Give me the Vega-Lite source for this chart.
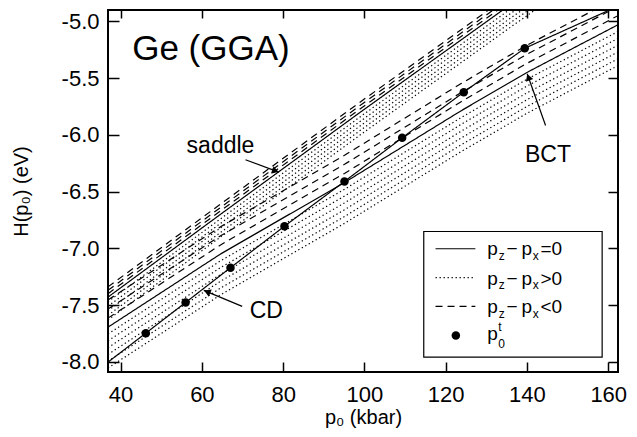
{
  "$schema": "https://vega.github.io/schema/vega-lite/v6.json",
  "width": 510,
  "height": 362,
  "autosize": {"type": "none"},
  "padding": {"left": 108, "top": 10, "right": 19, "bottom": 65},
  "background": "white",
  "config": {
    "view": {"stroke": "black", "strokeWidth": 2},
    "font": "Liberation Sans",
    "axis": {"domain": false, "grid": false, "tickColor": "black", "tickWidth": 1.5, "labelColor": "black", "titleColor": "black", "labelFont": "Liberation Sans", "titleFont": "Liberation Sans", "labelFontSize": 22, "titleFontSize": 20, "titleFontWeight": "normal"}
  },
  "datasets": {
    "lines": [
      {"line": "cd0", "dp": "=0", "x": 36.9, "y": -8.003},
      {"line": "cd0", "dp": "=0", "x": 46.2, "y": -7.748},
      {"line": "cd0", "dp": "=0", "x": 56.0, "y": -7.477},
      {"line": "cd0", "dp": "=0", "x": 67.04, "y": -7.171},
      {"line": "cd0", "dp": "=0", "x": 80.33, "y": -6.805},
      {"line": "cd0", "dp": "=0", "x": 95.09, "y": -6.411},
      {"line": "cd0", "dp": "=0", "x": 109.29, "y": -6.026},
      {"line": "cd0", "dp": "=0", "x": 124.45, "y": -5.624},
      {"line": "cd0", "dp": "=0", "x": 139.46, "y": -5.237},
      {"line": "cd0", "dp": "=0", "x": 159.7, "y": -4.91},

      {"line": "bct0", "dp": "=0", "x": 36.9, "y": -7.695},
      {"line": "bct0", "dp": "=0", "x": 64.6, "y": -7.05},
      {"line": "bct0", "dp": "=0", "x": 95.1, "y": -6.42},
      {"line": "bct0", "dp": "=0", "x": 123.7, "y": -5.79},
      {"line": "bct0", "dp": "=0", "x": 140, "y": -5.45},
      {"line": "bct0", "dp": "=0", "x": 162.4, "y": -5.03},

      {"line": "bctd1", "dp": "<0", "x": 36.9, "y": -7.615},
      {"line": "bctd1", "dp": "<0", "x": 64.6, "y": -6.97},
      {"line": "bctd1", "dp": "<0", "x": 95.1, "y": -6.34},
      {"line": "bctd1", "dp": "<0", "x": 123.7, "y": -5.71},
      {"line": "bctd1", "dp": "<0", "x": 140, "y": -5.37},
      {"line": "bctd1", "dp": "<0", "x": 162.4, "y": -4.95},
      {"line": "bctd2", "dp": "<0", "x": 36.9, "y": -7.535},
      {"line": "bctd2", "dp": "<0", "x": 64.6, "y": -6.89},
      {"line": "bctd2", "dp": "<0", "x": 95.1, "y": -6.26},
      {"line": "bctd2", "dp": "<0", "x": 123.7, "y": -5.63},
      {"line": "bctd2", "dp": "<0", "x": 140, "y": -5.29},
      {"line": "bctd2", "dp": "<0", "x": 162.4, "y": -4.87},
      {"line": "bctd3", "dp": "<0", "x": 36.9, "y": -7.455},
      {"line": "bctd3", "dp": "<0", "x": 64.6, "y": -6.81},
      {"line": "bctd3", "dp": "<0", "x": 95.1, "y": -6.18},
      {"line": "bctd3", "dp": "<0", "x": 123.7, "y": -5.55},
      {"line": "bctd3", "dp": "<0", "x": 140, "y": -5.21},
      {"line": "bctd3", "dp": "<0", "x": 162.4, "y": -4.79},

      {"line": "bctp1", "dp": ">0", "x": 36.9, "y": -7.755},
      {"line": "bctp1", "dp": ">0", "x": 64.6, "y": -7.11},
      {"line": "bctp1", "dp": ">0", "x": 95.1, "y": -6.48},
      {"line": "bctp1", "dp": ">0", "x": 123.7, "y": -5.85},
      {"line": "bctp1", "dp": ">0", "x": 140, "y": -5.51},
      {"line": "bctp1", "dp": ">0", "x": 162.4, "y": -5.09},
      {"line": "bctp2", "dp": ">0", "x": 36.9, "y": -7.815},
      {"line": "bctp2", "dp": ">0", "x": 64.6, "y": -7.17},
      {"line": "bctp2", "dp": ">0", "x": 95.1, "y": -6.54},
      {"line": "bctp2", "dp": ">0", "x": 123.7, "y": -5.91},
      {"line": "bctp2", "dp": ">0", "x": 140, "y": -5.57},
      {"line": "bctp2", "dp": ">0", "x": 162.4, "y": -5.15},
      {"line": "bctp3", "dp": ">0", "x": 36.9, "y": -7.875},
      {"line": "bctp3", "dp": ">0", "x": 64.6, "y": -7.23},
      {"line": "bctp3", "dp": ">0", "x": 95.1, "y": -6.60},
      {"line": "bctp3", "dp": ">0", "x": 123.7, "y": -5.97},
      {"line": "bctp3", "dp": ">0", "x": 140, "y": -5.63},
      {"line": "bctp3", "dp": ">0", "x": 162.4, "y": -5.21},
      {"line": "bctp4", "dp": ">0", "x": 36.9, "y": -7.935},
      {"line": "bctp4", "dp": ">0", "x": 64.6, "y": -7.29},
      {"line": "bctp4", "dp": ">0", "x": 95.1, "y": -6.66},
      {"line": "bctp4", "dp": ">0", "x": 123.7, "y": -6.03},
      {"line": "bctp4", "dp": ">0", "x": 140, "y": -5.69},
      {"line": "bctp4", "dp": ">0", "x": 162.4, "y": -5.27},
      {"line": "bctp5", "dp": ">0", "x": 36.9, "y": -7.995},
      {"line": "bctp5", "dp": ">0", "x": 64.6, "y": -7.35},
      {"line": "bctp5", "dp": ">0", "x": 95.1, "y": -6.72},
      {"line": "bctp5", "dp": ">0", "x": 123.7, "y": -6.09},
      {"line": "bctp5", "dp": ">0", "x": 140, "y": -5.75},
      {"line": "bctp5", "dp": ">0", "x": 162.4, "y": -5.33},
      {"line": "bctp6", "dp": ">0", "x": 36.9, "y": -8.055},
      {"line": "bctp6", "dp": ">0", "x": 64.6, "y": -7.41},
      {"line": "bctp6", "dp": ">0", "x": 95.1, "y": -6.78},
      {"line": "bctp6", "dp": ">0", "x": 123.7, "y": -6.15},
      {"line": "bctp6", "dp": ">0", "x": 140, "y": -5.81},
      {"line": "bctp6", "dp": ">0", "x": 162.4, "y": -5.39},

      {"line": "sad0", "dp": "=0", "x": 36.9, "y": -7.43},
      {"line": "sad0", "dp": "=0", "x": 64.6, "y": -6.70},
      {"line": "sad0", "dp": "=0", "x": 99, "y": -5.80},
      {"line": "sad0", "dp": "=0", "x": 136, "y": -4.85},
      {"line": "sad0", "dp": "=0", "x": 150, "y": -4.50},
      {"line": "sadd1", "dp": "<0", "x": 36.9, "y": -7.40},
      {"line": "sadd1", "dp": "<0", "x": 64.6, "y": -6.67},
      {"line": "sadd1", "dp": "<0", "x": 99, "y": -5.77},
      {"line": "sadd1", "dp": "<0", "x": 136, "y": -4.82},
      {"line": "sadd1", "dp": "<0", "x": 150, "y": -4.47},
      {"line": "sadd2", "dp": "<0", "x": 36.9, "y": -7.37},
      {"line": "sadd2", "dp": "<0", "x": 64.6, "y": -6.64},
      {"line": "sadd2", "dp": "<0", "x": 99, "y": -5.74},
      {"line": "sadd2", "dp": "<0", "x": 136, "y": -4.79},
      {"line": "sadd2", "dp": "<0", "x": 150, "y": -4.44},
      {"line": "sadd3", "dp": "<0", "x": 36.9, "y": -7.34},
      {"line": "sadd3", "dp": "<0", "x": 64.6, "y": -6.61},
      {"line": "sadd3", "dp": "<0", "x": 99, "y": -5.71},
      {"line": "sadd3", "dp": "<0", "x": 136, "y": -4.76},
      {"line": "sadd3", "dp": "<0", "x": 150, "y": -4.41},
      {"line": "sadp1", "dp": ">0", "x": 36.9, "y": -7.47},
      {"line": "sadp1", "dp": ">0", "x": 64.6, "y": -6.74},
      {"line": "sadp1", "dp": ">0", "x": 99, "y": -5.84},
      {"line": "sadp1", "dp": ">0", "x": 136, "y": -4.89},
      {"line": "sadp1", "dp": ">0", "x": 150, "y": -4.54},
      {"line": "sadp2", "dp": ">0", "x": 36.9, "y": -7.51},
      {"line": "sadp2", "dp": ">0", "x": 64.6, "y": -6.78},
      {"line": "sadp2", "dp": ">0", "x": 99, "y": -5.88},
      {"line": "sadp2", "dp": ">0", "x": 136, "y": -4.93},
      {"line": "sadp2", "dp": ">0", "x": 150, "y": -4.58},
      {"line": "sadp3", "dp": ">0", "x": 36.9, "y": -7.55},
      {"line": "sadp3", "dp": ">0", "x": 64.6, "y": -6.82},
      {"line": "sadp3", "dp": ">0", "x": 99, "y": -5.92},
      {"line": "sadp3", "dp": ">0", "x": 136, "y": -4.97},
      {"line": "sadp3", "dp": ">0", "x": 150, "y": -4.62},
      {"line": "sadp4", "dp": ">0", "x": 36.9, "y": -7.59},
      {"line": "sadp4", "dp": ">0", "x": 64.6, "y": -6.86},
      {"line": "sadp4", "dp": ">0", "x": 99, "y": -5.96},
      {"line": "sadp4", "dp": ">0", "x": 136, "y": -5.01},
      {"line": "sadp4", "dp": ">0", "x": 150, "y": -4.66},
      {"line": "sadp5", "dp": ">0", "x": 36.9, "y": -7.63},
      {"line": "sadp5", "dp": ">0", "x": 64.6, "y": -6.90},
      {"line": "sadp5", "dp": ">0", "x": 99, "y": -6.00},
      {"line": "sadp5", "dp": ">0", "x": 136, "y": -5.05},
      {"line": "sadp5", "dp": ">0", "x": 150, "y": -4.70}
    ],
    "dots": [
      {"x": 46.2, "y": -7.748},
      {"x": 56.0, "y": -7.477},
      {"x": 67.04, "y": -7.171},
      {"x": 80.33, "y": -6.805},
      {"x": 95.09, "y": -6.411},
      {"x": 109.29, "y": -6.026},
      {"x": 124.45, "y": -5.624},
      {"x": 139.46, "y": -5.237}
    ],
    "title": [{"text": "Ge (GGA)", "x": 42.85, "y": -5.345}],
    "labels": [
      {"text": "saddle", "x": 64.58, "y": -6.164},
      {"text": "CD", "x": 75.85, "y": -7.612},
      {"text": "BCT", "x": 145.17, "y": -6.241}
    ],
    "arrows": [
      {"arrow": "saddle", "x": 70.73, "y": -6.220},
      {"arrow": "saddle", "x": 78.93, "y": -6.329},
      {"arrow": "CD", "x": 69.92, "y": -7.512},
      {"arrow": "CD", "x": 60.47, "y": -7.371},
      {"arrow": "BCT", "x": 144.58, "y": -5.918},
      {"arrow": "BCT", "x": 140.05, "y": -5.462}
    ],
    "heads": [
      {"arrow": "saddle", "x": 78.1, "y": -6.318},
      {"arrow": "CD", "x": 61.3, "y": -7.383},
      {"arrow": "BCT", "x": 140.35, "y": -5.492}
    ],
    "legendBox": [{"x": 114.6, "x2": 158.5, "y": -6.852, "y2": -7.959}],
    "legendLines": [
      {"dp": "=0", "x": 117.5, "x2": 127.3, "y": -7.004},
      {"dp": ">0", "x": 117.5, "x2": 127.3, "y": -7.259},
      {"dp": "<0", "x": 117.5, "x2": 127.3, "y": -7.512}
    ],
    "legendDot": [{"x": 122.5, "y": -7.768}],
    "legendText": [
      {"kind": "main", "text": "p", "x": 130.21, "y": -7.063},
      {"kind": "sub", "text": "z", "x": 133.06, "y": -7.103},
      {"kind": "main", "text": "−", "x": 134.96, "y": -7.063},
      {"kind": "main", "text": "p", "x": 138.65, "y": -7.063},
      {"kind": "sub", "text": "x", "x": 141.4, "y": -7.103},
      {"kind": "main", "text": "=0", "x": 143.3, "y": -7.063},
      {"kind": "main", "text": "p", "x": 130.21, "y": -7.319},
      {"kind": "sub", "text": "z", "x": 133.06, "y": -7.359},
      {"kind": "main", "text": "−", "x": 134.96, "y": -7.319},
      {"kind": "main", "text": "p", "x": 138.65, "y": -7.319},
      {"kind": "sub", "text": "x", "x": 141.4, "y": -7.359},
      {"kind": "main", "text": ">0", "x": 143.3, "y": -7.319},
      {"kind": "main", "text": "p", "x": 130.21, "y": -7.571},
      {"kind": "sub", "text": "z", "x": 133.06, "y": -7.611},
      {"kind": "main", "text": "−", "x": 134.96, "y": -7.571},
      {"kind": "main", "text": "p", "x": 138.65, "y": -7.571},
      {"kind": "sub", "text": "x", "x": 141.4, "y": -7.611},
      {"kind": "main", "text": "<0", "x": 143.3, "y": -7.571},
      {"kind": "main", "text": "p", "x": 130.21, "y": -7.812},
      {"kind": "sub", "text": "t", "x": 132.95, "y": -7.728},
      {"kind": "sub", "text": "0", "x": 132.95, "y": -7.875}
    ]
  },
  "encoding": {
    "x": {"field": "x", "type": "quantitative", "scale": {"domain": [36.9, 162.4], "nice": false, "zero": false}, "axis": null},
    "y": {"field": "y", "type": "quantitative", "scale": {"domain": [-8.09, -4.9], "nice": false, "zero": false}, "axis": null}
  },
  "resolve": {"axis": {"x": "independent", "y": "independent"}},
  "layer": [
    {
      "data": {"name": "lines"},
      "mark": {"type": "line", "clip": true, "strokeWidth": 1.2, "color": "black", "strokeCap": "butt"},
      "encoding": {
        "x": {"field": "x", "type": "quantitative", "scale": {"domain": [36.9, 162.4], "nice": false, "zero": false},
          "axis": {"orient": "bottom", "values": [40, 60, 80, 100, 120, 140, 160], "tickSize": -10, "labelPadding": 22, "title": "p₀ (kbar)", "titlePadding": 2}},
        "y": {"field": "y", "type": "quantitative", "scale": {"domain": [-8.09, -4.9], "nice": false, "zero": false},
          "axis": {"orient": "left", "values": [-8, -7.5, -7, -6.5, -6, -5.5, -5], "tickSize": -11, "labelPadding": 20, "labelExpr": "replace(format(datum.value, '.1f'), '\u2212', '-')", "title": "H(p₀) (eV)", "titlePadding": 30}},
        "detail": {"field": "line", "type": "nominal"},
        "strokeDash": {"field": "dp", "type": "nominal", "scale": {"domain": ["=0", ">0", "<0"], "range": [[1, 0], [1.3, 2.7], [7, 5]]}, "legend": null}
      }
    },
    {
      "data": {"name": "dots"},
      "mark": {"type": "point", "filled": true, "fill": "black", "stroke": null, "size": 72, "opacity": 1},
      "encoding": {
        "x": {"field": "x", "type": "quantitative", "scale": {"domain": [36.9, 162.4], "nice": false, "zero": false},
          "axis": {"orient": "top", "values": [40, 60, 80, 100, 120, 140, 160], "tickSize": -8, "labels": false, "title": null}},
        "y": {"field": "y", "type": "quantitative", "scale": {"domain": [-8.09, -4.9], "nice": false, "zero": false},
          "axis": {"orient": "right", "values": [-8, -7.5, -7, -6.5, -6, -5.5, -5], "tickSize": -10, "labels": false, "title": null}}
      }
    },
    {
      "data": {"name": "title"},
      "mark": {"type": "text", "align": "left", "baseline": "alphabetic", "fontSize": 35, "font": "Liberation Sans", "fill": "black"},
      "encoding": {"text": {"field": "text", "type": "nominal"}}
    },
    {
      "data": {"name": "labels"},
      "mark": {"type": "text", "align": "center", "baseline": "alphabetic", "fontSize": 23, "font": "Liberation Sans", "fill": "black"},
      "encoding": {"text": {"field": "text", "type": "nominal"}}
    },
    {
      "data": {"name": "arrows"},
      "mark": {"type": "line", "strokeWidth": 1.2, "color": "black"},
      "encoding": {"detail": {"field": "arrow", "type": "nominal"}}
    },
    {
      "data": {"name": "heads"},
      "transform": [{"filter": "datum.arrow === 'saddle'"}],
      "mark": {"type": "point", "shape": "triangle-up", "filled": true, "fill": "black", "stroke": null, "opacity": 1, "size": 60, "angle": 110}
    },
    {
      "data": {"name": "heads"},
      "transform": [{"filter": "datum.arrow === 'CD'"}],
      "mark": {"type": "point", "shape": "triangle-up", "filled": true, "fill": "black", "stroke": null, "opacity": 1, "size": 60, "angle": 293}
    },
    {
      "data": {"name": "heads"},
      "transform": [{"filter": "datum.arrow === 'BCT'"}],
      "mark": {"type": "point", "shape": "triangle-up", "filled": true, "fill": "black", "stroke": null, "opacity": 1, "size": 60, "angle": 340}
    },
    {
      "data": {"name": "legendBox"},
      "mark": {"type": "rect", "fill": "white", "stroke": "black", "strokeWidth": 1.2},
      "encoding": {"x2": {"field": "x2"}, "y2": {"field": "y2"}}
    },
    {
      "data": {"name": "legendLines"},
      "mark": {"type": "rule", "strokeWidth": 1.2, "color": "black", "strokeCap": "butt"},
      "encoding": {
        "x2": {"field": "x2"},
        "strokeDash": {"field": "dp", "type": "nominal", "scale": {"domain": ["=0", ">0", "<0"], "range": [[1, 0], [1.3, 2.7], [7, 5]]}, "legend": null}
      }
    },
    {
      "data": {"name": "legendDot"},
      "mark": {"type": "point", "filled": true, "fill": "black", "stroke": null, "size": 72, "opacity": 1}
    },
    {
      "data": {"name": "legendText"},
      "transform": [{"filter": "datum.kind === 'main'"}],
      "mark": {"type": "text", "align": "left", "baseline": "alphabetic", "fontSize": 19, "font": "Liberation Sans", "fill": "black"},
      "encoding": {"text": {"field": "text", "type": "nominal"}}
    },
    {
      "data": {"name": "legendText"},
      "transform": [{"filter": "datum.kind === 'sub'"}],
      "mark": {"type": "text", "align": "left", "baseline": "alphabetic", "fontSize": 12, "font": "Liberation Sans", "fill": "black"},
      "encoding": {"text": {"field": "text", "type": "nominal"}}
    }
  ]
}
